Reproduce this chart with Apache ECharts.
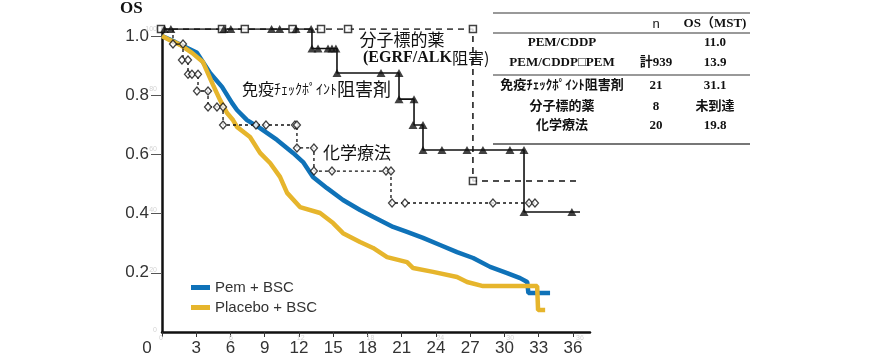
<!DOCTYPE html>
<html>
<head>
<meta charset="utf-8">
<script src="https://cdn.jsdelivr.net/npm/echarts@6/dist/echarts.min.js"></script>
<style>html,body{margin:0;padding:0;background:#fff}#c{width:870px;height:360px}</style>
</head>
<body>
<div id="c"></div>
<script>
// ---- Main KM curves (months, survival) ----
const pemTime = [0,1.14,3.07,4.21,5.26,6.13,6.57,7.45,8.59,10.08,11.48,12.36,13.23,14.46,15.86,17.35,18.49,20.25,21.47,22.87,24.36,25.85,27.26,28.75,30.24,31.38,32.0,32.1,34.0];
const pemSurv = [1.0,0.98,0.943,0.875,0.828,0.774,0.75,0.716,0.689,0.649,0.605,0.574,0.524,0.486,0.446,0.412,0.389,0.355,0.338,0.318,0.294,0.270,0.25,0.220,0.199,0.182,0.169,0.132,0.132];
const plaTime = [0,0.7,1.6,2.63,3.59,4.47,5.08,5.70,6.22,6.57,7.71,8.59,9.47,10.34,10.96,12.09,13.85,14.99,15.86,17.35,18.49,19.72,21.47,22.0,23.75,25.85,26.73,28.13,32.87,32.95,33.57];
const plaSurv = [1.0,0.986,0.97,0.943,0.912,0.835,0.784,0.740,0.716,0.693,0.659,0.605,0.571,0.524,0.470,0.422,0.402,0.368,0.334,0.304,0.284,0.253,0.236,0.216,0.203,0.186,0.169,0.155,0.155,0.074,0.074];

// ---- Overlay KM curves ----
const iciTime = [0,12.97,15.12,20.45,21.74,22.51,31.19,36.0];
const iciSurv = [1.0,0.935,0.854,0.767,0.681,0.598,0.392,0.392];
const iciCensorTime = [0.3,0.85,5.4,6.0,9.5,10.2,11.6,12.9,12.97,13.49,14.35,14.69,15.03,15.12,18.9,20.45,20.45,21.74,21.65,22.51,22.51,24.14,26.29,27.66,29.98,31.19,31.19,35.3];
const iciCensorSurv = [1,1,1,1,1,1,1,1,0.935,0.935,0.935,0.935,0.935,0.854,0.854,0.854,0.767,0.767,0.681,0.681,0.598,0.598,0.598,0.598,0.598,0.598,0.392,0.392];

const tgtTime = [0,26.8,36.0];
const tgtSurv = [1.0,0.495,0.495];
const tgtCensorTime = [0.0,5.24,7.2,11.3,13.75,16.07,26.8,26.8];
const tgtCensorSurv = [1,1,1,1,1,1,1,0.495];

const chemoTime = [0,1.03,1.89,2.32,3.18,4.04,5.33,11.68,13.14,19.76,32.13];
const chemoSurv = [1.0,0.950,0.897,0.850,0.794,0.741,0.681,0.605,0.528,0.422,0.422];
const chemoCensorTime = [1.03,1.89,1.80,2.32,2.32,2.66,3.18,3.09,4.04,4.04,4.81,5.33,5.33,8.16,9.02,11.51,11.68,11.68,13.14,13.14,14.69,19.33,19.76,19.85,20.96,28.52,31.62,32.13];
const chemoCensorSurv = [0.950,0.950,0.897,0.897,0.850,0.850,0.850,0.794,0.794,0.741,0.741,0.741,0.681,0.681,0.681,0.681,0.681,0.605,0.605,0.528,0.528,0.528,0.528,0.422,0.422,0.422,0.422,0.422];

// ---- Tick labels ----
const xTicks = [0,3,6,9,12,15,18,21,24,27,30,33,36];
const yTicks = [0.2,0.4,0.6,0.8,1.0];

// ---- Table ----
const tableHeader = ['', 'n', 'OS（MST)'];
const tableRows = [
  ['PEM/CDDP', '', '11.0'],
  ['PEM/CDDP□PEM', '計939', '13.9'],
  ['免疫ﾁｪｯｸﾎﾟｲﾝﾄ阻害剤', '21', '31.1'],
  ['分子標的薬', '8', '未到達'],
  ['化学療法', '20', '19.8']
];

const pairs = (a, b) => a.map((t, i) => [t, b[i]]);
const BLUE = '#0f72b8', YELLOW = '#e6b52c';
const SANS = "'Liberation Sans', Arial, sans-serif";
const SERIF = "'Liberation Serif', 'Noto Sans CJK JP', serif";
const CJK = "'Noto Sans CJK JP', sans-serif";

// table graphics
const colX = [562, 656, 715];
const rowY = [24, 43, 63, 86, 107, 126];
const tableGraphics = [];
[tableHeader].concat(tableRows).forEach((row, r) => {
  row.forEach((cell, c) => {
    if (!cell) return;
    tableGraphics.push({
      type: 'text', x: colX[c], y: rowY[r],
      style: {
        text: cell, align: 'center', verticalAlign: 'middle',
        fontSize: 13, fontWeight: (r === 0 && c === 1) ? 'normal' : 'bold',
        fontFamily: (r === 0 && c === 1) ? SANS : SERIF, fill: '#111'
      }
    });
  });
});
[[13, 1.5], [33, 1.5], [75, 1.5], [144, 2]].forEach(([y, w]) => {
  tableGraphics.push({ type: 'line', shape: { x1: 493, y1: y, x2: 750, y2: y }, style: { stroke: '#777', lineWidth: w } });
});

const chart = echarts.init(document.getElementById('c'), null, { renderer: 'canvas' });
chart.setOption({
  animation: false,
  backgroundColor: '#fff',
  grid: [
    { left: 162, top: 28, width: 428, height: 304 },
    { left: 161, top: 29, width: 419, height: 301 }
  ],
  xAxis: [
    {
      gridIndex: 0, type: 'value', min: 0, max: 37.5, interval: 3,
      axisLine: { lineStyle: { color: '#111', width: 2.5 } },
      axisTick: { show: true, length: 5, customValues: xTicks, lineStyle: { color: '#333' } },
      axisLabel: {
        customValues: xTicks, fontSize: 17, color: '#333', fontFamily: SANS, margin: 8,
        formatter: v => v === 0 ? '{z|0}' : String(v),
        rich: { z: { fontSize: 17, color: '#333', fontFamily: SANS, padding: [0, 30, 0, 0] } }
      },
      splitLine: { show: false }
    },
    {
      gridIndex: 1, type: 'value', min: 0, max: 36, interval: 6,
      axisLine: { show: false }, axisTick: { show: false },
      axisLabel: { fontSize: 7, color: '#d4d4d4', margin: 5 },
      splitLine: { show: false }
    }
  ],
  yAxis: [
    {
      gridIndex: 0, type: 'value', min: 0, max: 1.027,
      axisLine: { show: true, lineStyle: { color: '#111', width: 2.5 } },
      axisTick: { show: true, length: 11, customValues: yTicks, lineStyle: { color: '#555' } },
      axisLabel: { customValues: yTicks, fontSize: 17, color: '#333', fontFamily: SANS, margin: 13, formatter: v => v.toFixed(1) },
      splitLine: { show: false }
    },
    {
      gridIndex: 1, type: 'value', min: 0, max: 1, interval: 0.2,
      axisLine: { show: false }, axisTick: { show: false },
      axisLabel: { fontSize: 7, color: '#d4d4d4', margin: 4, formatter: v => String(Math.round(v * 100)) },
      splitLine: { show: false }
    }
  ],
  legend: {
    left: 186, top: 275, orient: 'vertical', icon: 'rect', itemWidth: 19, itemHeight: 5, itemGap: 5,
    textStyle: { fontSize: 15, color: '#333', fontFamily: SANS },
    data: ['Pem + BSC', 'Placebo + BSC']
  },
  series: [
    { name: 'Pem + BSC', type: 'line', xAxisIndex: 0, yAxisIndex: 0, data: pairs(pemTime, pemSurv), showSymbol: false, lineStyle: { color: BLUE, width: 4.5 }, itemStyle: { color: BLUE }, z: 2 },
    { name: 'Placebo + BSC', type: 'line', xAxisIndex: 0, yAxisIndex: 0, data: pairs(plaTime, plaSurv), showSymbol: false, lineStyle: { color: YELLOW, width: 4.5 }, itemStyle: { color: YELLOW }, z: 3 },
    { name: 'tgt', type: 'line', step: 'end', xAxisIndex: 1, yAxisIndex: 1, data: pairs(tgtTime, tgtSurv), showSymbol: false, lineStyle: { color: '#111', width: 1.5, type: [6, 5] }, z: 4 },
    { name: 'chemo', type: 'line', step: 'end', xAxisIndex: 1, yAxisIndex: 1, data: pairs(chemoTime, chemoSurv), showSymbol: false, lineStyle: { color: '#111', width: 1.3, type: [3, 3] }, z: 4 },
    { name: 'ici', type: 'line', step: 'end', xAxisIndex: 1, yAxisIndex: 1, data: pairs(iciTime, iciSurv), showSymbol: false, lineStyle: { color: '#111', width: 1.6 }, z: 5 },
    { name: 'tgtC', type: 'scatter', xAxisIndex: 1, yAxisIndex: 1, data: pairs(tgtCensorTime, tgtCensorSurv), symbol: 'rect', symbolSize: 7, itemStyle: { color: '#fff', borderColor: '#111', borderWidth: 1.5 }, z: 6 },
    { name: 'chemoC', type: 'scatter', xAxisIndex: 1, yAxisIndex: 1, data: pairs(chemoCensorTime, chemoCensorSurv), symbol: 'diamond', symbolSize: [7, 8], itemStyle: { color: '#fff', borderColor: '#111', borderWidth: 1.3 }, z: 6 },
    { name: 'iciC', type: 'scatter', xAxisIndex: 1, yAxisIndex: 1, data: pairs(iciCensorTime, iciCensorSurv), symbol: 'triangle', symbolSize: [9, 8], itemStyle: { color: '#111' }, z: 7 }
  ],
  graphic: [
    { type: 'text', x: 120, y: 9, style: { text: 'OS', fontSize: 17, fontWeight: 'bold', fontFamily: SERIF, fill: '#111', verticalAlign: 'middle' } },
    { type: 'text', x: 402, y: 40, style: { text: '分子標的薬', fontSize: 17, fontFamily: CJK, fill: '#111', align: 'center', verticalAlign: 'middle' } },
    { type: 'text', x: 363, y: 58, style: {
        text: '{t|(EGRF/ALK}{g|阻害)}', verticalAlign: 'middle',
        rich: { t: { fontSize: 16, fontWeight: 'bold', fontFamily: SERIF, fill: '#111' }, g: { fontSize: 16, fontFamily: CJK, fill: '#111' } } } },
    { type: 'text', x: 242, y: 89, style: {
        text: '{b|免疫}{s|ﾁｪｯｸﾎﾟｲﾝﾄ}{c|阻害剤}', verticalAlign: 'middle',
        rich: { b: { fontSize: 16, fontFamily: CJK, fill: '#111' }, s: { fontSize: 14, fontFamily: CJK, fill: '#111' }, c: { fontSize: 18, fontFamily: CJK, fill: '#111' } } } },
    { type: 'text', x: 357, y: 153, style: { text: '化学療法', fontSize: 17, fontFamily: CJK, fill: '#111', align: 'center', verticalAlign: 'middle' } }
  ].concat(tableGraphics)
});
</script>
</body>
</html>
